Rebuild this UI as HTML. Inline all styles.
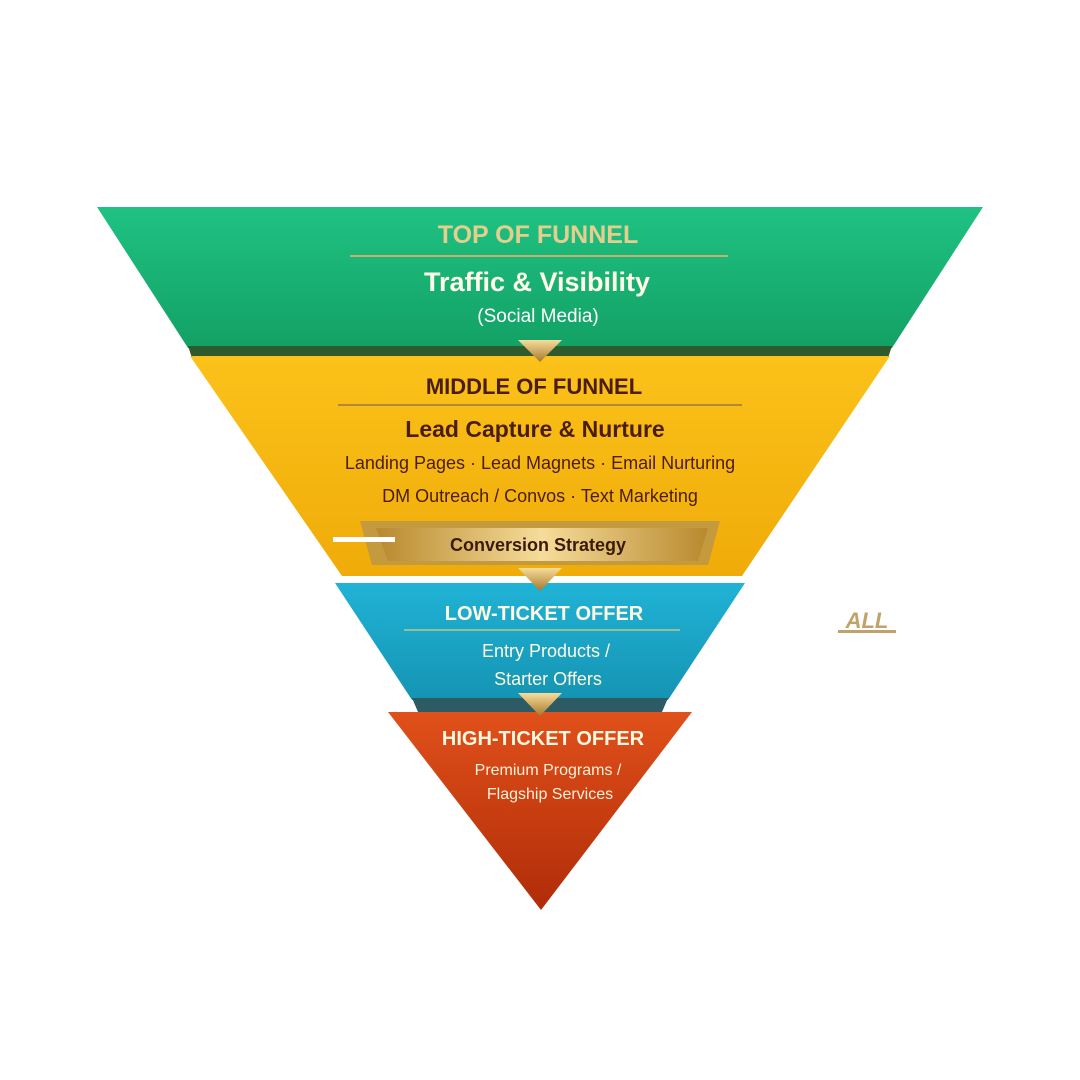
<!DOCTYPE html>
<html><head><meta charset="utf-8"><style>
html,body{margin:0;padding:0;background:#fff;}
svg{display:block}
text{font-family:"Liberation Sans",sans-serif;font-weight:bold;text-anchor:middle}
.n{font-weight:normal}
</style></head><body>
<svg width="1080" height="1080" viewBox="0 0 1080 1080" xmlns="http://www.w3.org/2000/svg">
<defs>
<linearGradient id="g1" x1="0" y1="0" x2="0" y2="1"><stop offset="0" stop-color="#1fc283"/><stop offset="1" stop-color="#13a165"/></linearGradient>
<linearGradient id="g2" x1="0" y1="0" x2="0" y2="1"><stop offset="0" stop-color="#fbc21a"/><stop offset="1" stop-color="#f0ab08"/></linearGradient>
<linearGradient id="g3" x1="0" y1="0" x2="0" y2="1"><stop offset="0" stop-color="#20b3d6"/><stop offset="1" stop-color="#1594b3"/></linearGradient>
<linearGradient id="g4" x1="0" y1="0" x2="0" y2="1"><stop offset="0" stop-color="#e0501a"/><stop offset="1" stop-color="#b02c08"/></linearGradient>
<linearGradient id="gold" x1="0" y1="0" x2="1" y2="0"><stop offset="0" stop-color="#b8892e"/><stop offset="0.5" stop-color="#f6dc9a"/><stop offset="1" stop-color="#b8892e"/></linearGradient>
<linearGradient id="goldv" x1="0" y1="0" x2="0" y2="1"><stop offset="0" stop-color="#f5dd9c"/><stop offset="1" stop-color="#a9782a"/></linearGradient>
</defs>
<polygon points="97,207 983,207 892,348 188,348" fill="url(#g1)"/>
<polygon points="188,346 892,346 888,358 192,358" fill="#2e5a2e"/>
<polygon points="190,356 890,356 742,576 342,576" fill="url(#g2)"/>
<polygon points="335,583 745,583 668,700 412,700" fill="url(#g3)"/>
<polygon points="412,698 668,698 662,712 418,712" fill="#2d5a63"/>
<polygon points="388,712 692,712 541,910" fill="url(#g4)"/>
<line x1="350" y1="256" x2="728" y2="256" stroke="#c9b06a" stroke-width="2"/>
<line x1="338" y1="405" x2="742" y2="405" stroke="#b08a3a" stroke-width="2"/>
<line x1="404" y1="630" x2="680" y2="630" stroke="#b9c98a" stroke-width="1.5"/>
<polygon points="360,521 720,521 708,565 372,565" fill="#c49a3e"/>
<polygon points="376,528 708,528 698,561 388,561" fill="url(#gold)"/>
<rect x="333" y="537" width="62" height="5" fill="#fff"/>
<g fill="url(#goldv)">
<polygon points="518,340 562,340 540,362"/>
<polygon points="518,568 562,568 540,591"/>
<polygon points="518,693 562,693 540,716"/>
</g>
<text x="538" y="243" font-size="25" fill="#e6cf8e">TOP OF FUNNEL</text>
<text x="537" y="291" font-size="27" fill="#fffbe8">Traffic &amp; Visibility</text>
<text x="538" y="322" font-size="19" class="n" fill="#fff">(Social Media)</text>
<text x="534" y="394" font-size="22" fill="#4a1d10">MIDDLE OF FUNNEL</text>
<text x="535" y="437" font-size="23" fill="#4a1d10">Lead Capture &amp; Nurture</text>
<text x="540" y="469" font-size="18" class="n" fill="#4a1d10">Landing Pages · Lead Magnets · Email Nurturing</text>
<text x="540" y="502" font-size="18" class="n" fill="#4a1d10">DM Outreach / Convos · Text Marketing</text>
<text x="538" y="551" font-size="18" fill="#3a1a0a">Conversion Strategy</text>
<text x="544" y="620" font-size="20" fill="#fff8e0">LOW-TICKET OFFER</text>
<text x="546" y="657" font-size="18" class="n" fill="#fff8e0">Entry Products /</text>
<text x="548" y="685" font-size="18" class="n" fill="#fff8e0">Starter Offers</text>
<text x="543" y="745" font-size="20" fill="#fff8e0">HIGH-TICKET OFFER</text>
<text x="548" y="775" font-size="16" class="n" fill="#fff0d8">Premium Programs /</text>
<text x="550" y="799" font-size="16" class="n" fill="#fff0d8">Flagship Services</text>
<text x="867" y="628" font-size="22" fill="#c0a36a" font-style="italic">ALL</text>
<rect x="838" y="630" width="58" height="3" fill="#c0a36a"/>
</svg>
</body></html>
